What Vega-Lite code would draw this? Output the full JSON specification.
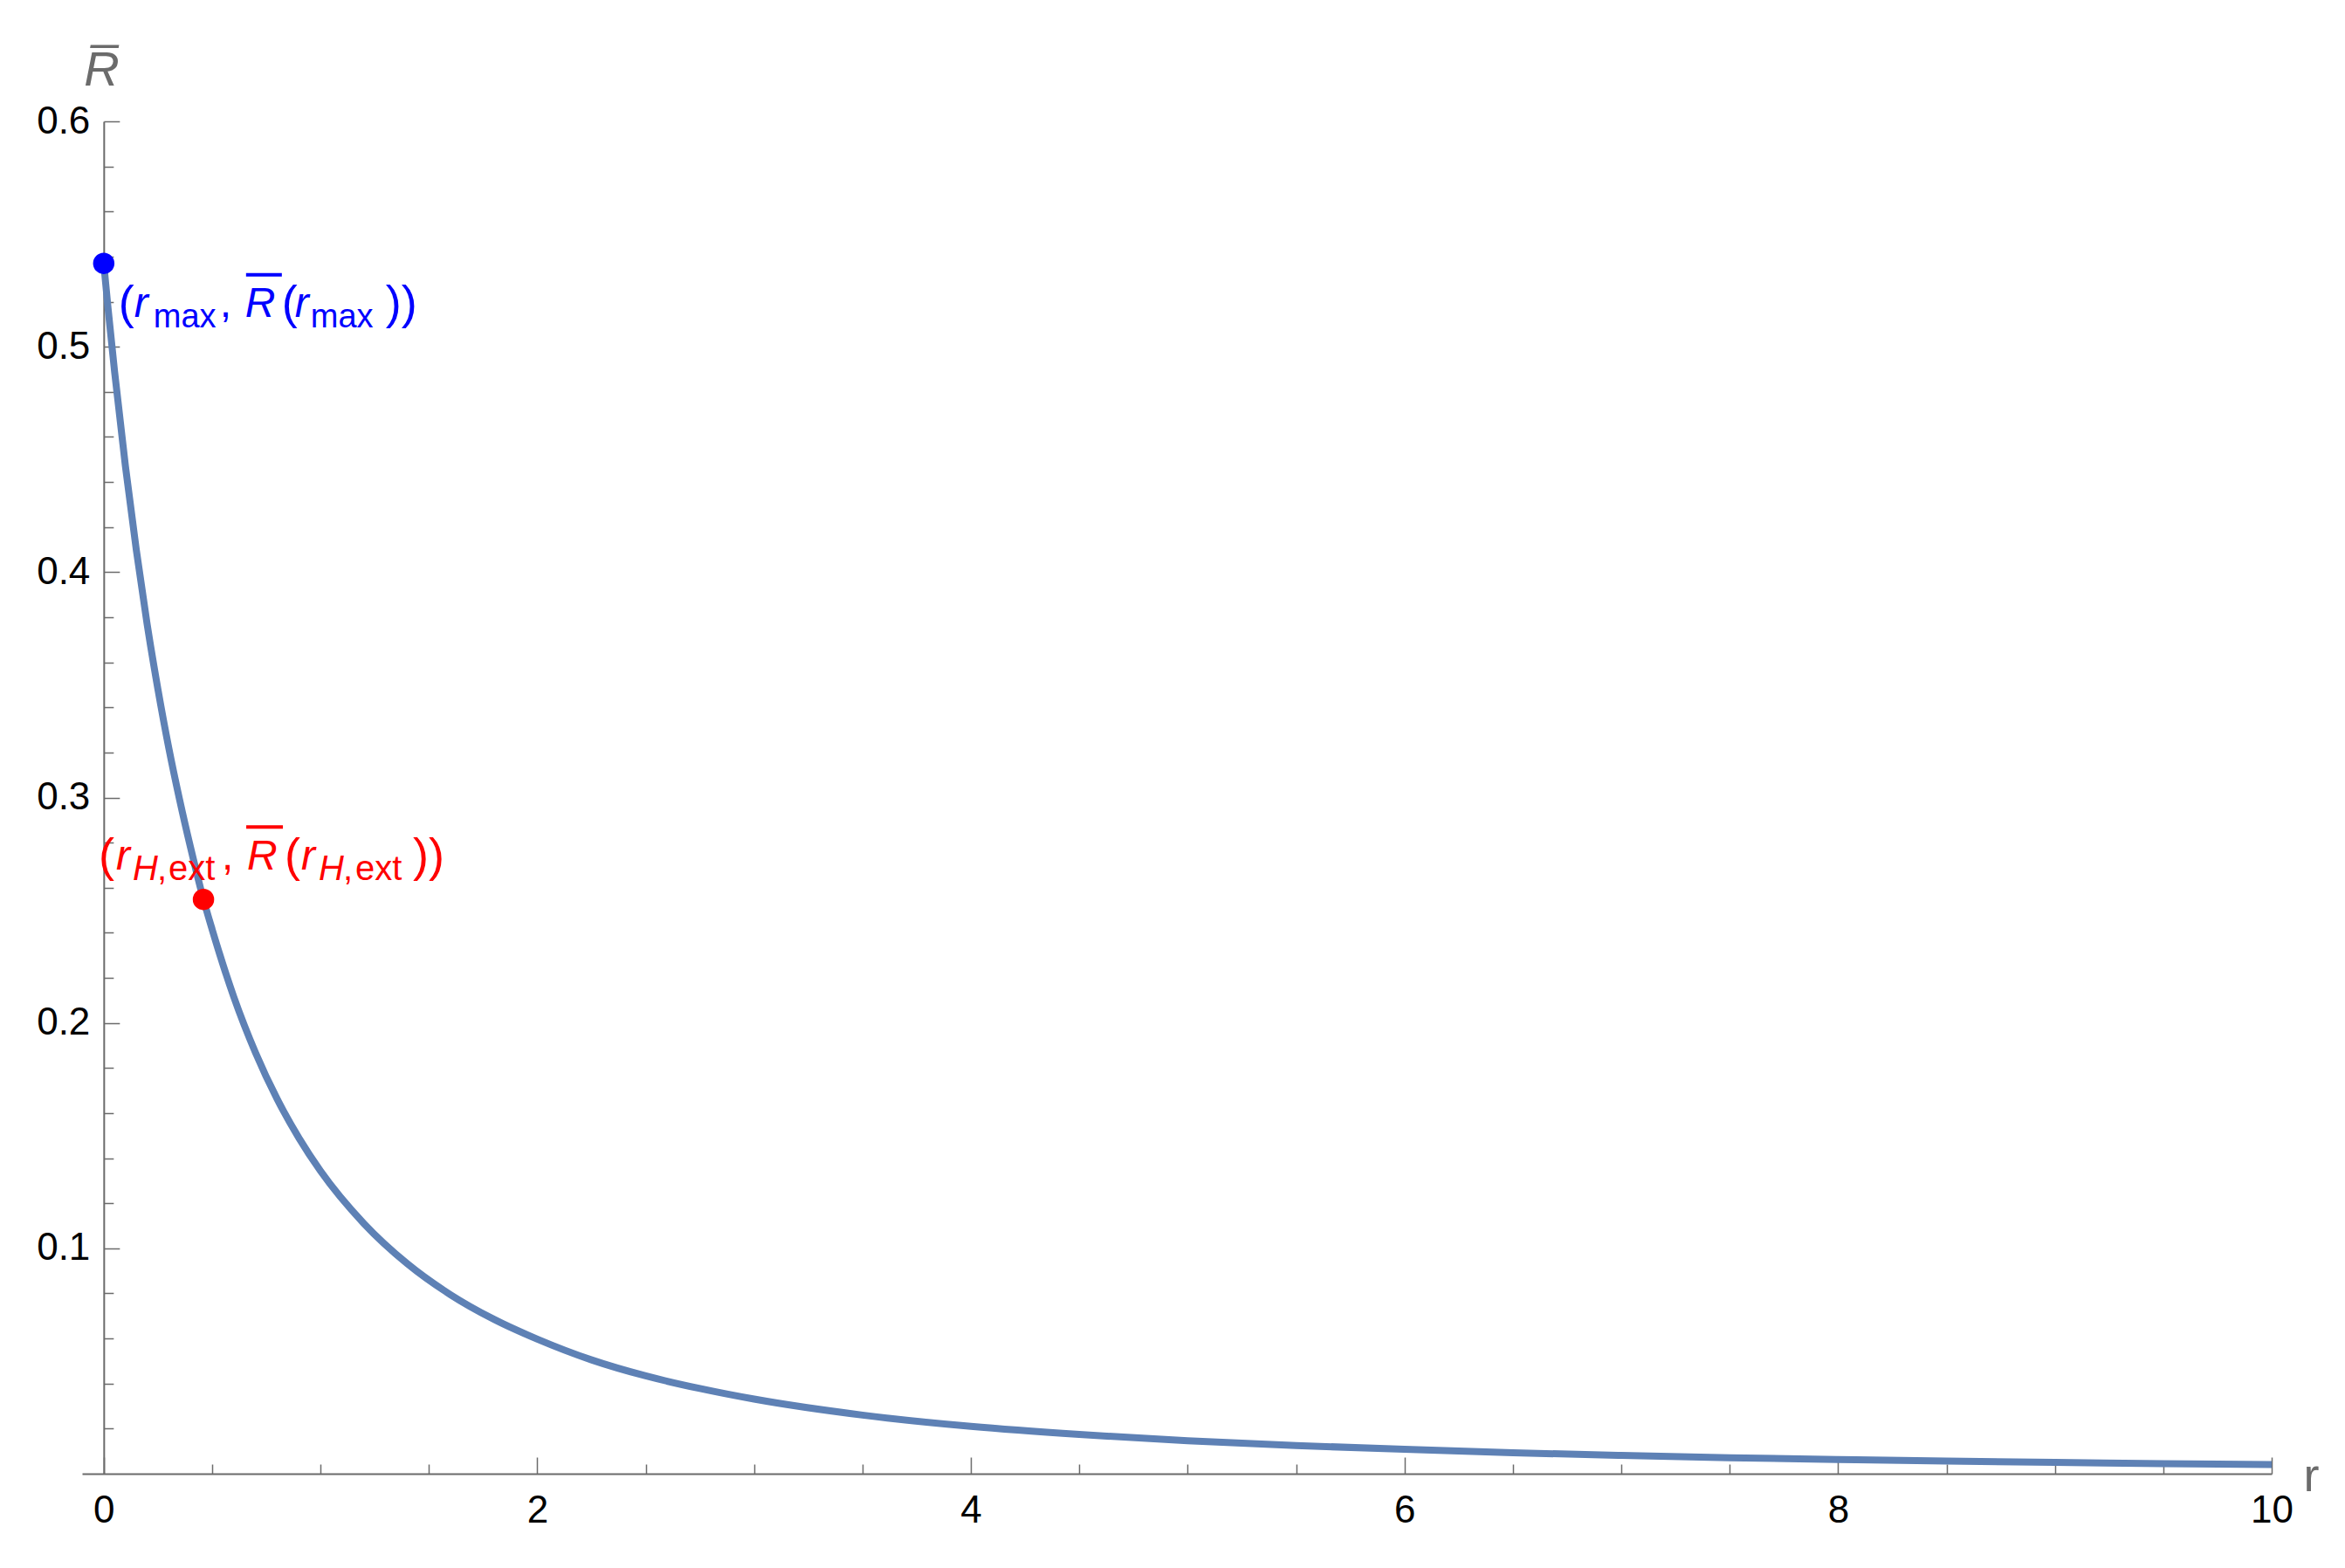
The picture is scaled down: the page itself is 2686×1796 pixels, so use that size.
{
  "$schema": "https://vega.github.io/schema/vega-lite/v6.json",
  "width": 2508,
  "height": 1549,
  "autosize": {"type": "none"},
  "padding": {"left": 94, "top": 139, "right": 84, "bottom": 108},
  "background": "white",
  "config": {
    "view": {"stroke": null},
    "font": "Liberation Sans",
    "text": {"font": "Liberation Sans"},
    "axis": {
      "grid": false,
      "domainColor": "#6b6b6b",
      "tickColor": "#6b6b6b",
      "domainWidth": 2,
      "tickWidth": 1.5,
      "labelColor": "#000000",
      "labelFont": "Liberation Sans",
      "labelFontSize": 44,
      "titleColor": "#6b6b6b",
      "titleFont": "Liberation Sans",
      "titleFontWeight": "normal"
    }
  },
  "datasets": {
    "curve": [
      {"r": 0, "R": 0.537},
      {"r": 0.02, "R": 0.517},
      {"r": 0.05, "R": 0.489},
      {"r": 0.1, "R": 0.447},
      {"r": 0.15, "R": 0.41},
      {"r": 0.2, "R": 0.377},
      {"r": 0.25, "R": 0.348},
      {"r": 0.3, "R": 0.322},
      {"r": 0.35, "R": 0.299},
      {"r": 0.4, "R": 0.278},
      {"r": 0.46, "R": 0.2548},
      {"r": 0.5, "R": 0.2415},
      {"r": 0.6, "R": 0.2115},
      {"r": 0.7, "R": 0.1868},
      {"r": 0.8, "R": 0.1662},
      {"r": 0.9, "R": 0.149},
      {"r": 1.0, "R": 0.1343},
      {"r": 1.2, "R": 0.111},
      {"r": 1.4, "R": 0.0932},
      {"r": 1.6, "R": 0.0794},
      {"r": 1.8, "R": 0.0685},
      {"r": 2.0, "R": 0.0597},
      {"r": 2.25, "R": 0.0505},
      {"r": 2.5, "R": 0.0434},
      {"r": 2.75, "R": 0.0378},
      {"r": 3.0, "R": 0.0331},
      {"r": 3.5, "R": 0.026},
      {"r": 4.0, "R": 0.021},
      {"r": 4.5, "R": 0.0174},
      {"r": 5.0, "R": 0.0146},
      {"r": 5.5, "R": 0.0125},
      {"r": 6.0, "R": 0.0108},
      {"r": 6.5, "R": 0.0093},
      {"r": 7.0, "R": 0.0081},
      {"r": 7.5, "R": 0.0071},
      {"r": 8.0, "R": 0.0063},
      {"r": 8.5, "R": 0.0056},
      {"r": 9.0, "R": 0.005},
      {"r": 9.5, "R": 0.0045},
      {"r": 10.0, "R": 0.0041}
    ],
    "pts": [
      {"name": "max", "r": 0, "R": 0.537},
      {"name": "ext", "r": 0.46, "R": 0.2548}
    ]
  },
  "resolve": {"axis": {"x": "independent", "y": "independent"}},
  "layer": [
    {
      "data": {"name": "curve"},
      "mark": {"type": "line", "color": "#5e81b5", "strokeWidth": 8, "interpolate": "monotone", "clip": false},
      "encoding": {
        "x": {
          "field": "r", "type": "quantitative",
          "scale": {"domain": [-0.1, 10], "nice": false, "zero": false},
          "axis": {
            "orient": "bottom",
            "values": [0, 2, 4, 6, 8, 10],
            "format": "d",
            "tickSize": -19,
            "labelPadding": 39,
            "labelFlush": false,
            "labelOverlap": false,
            "title": "r",
            "titleX": 2544,
            "titleY": 19,
            "titleAlign": "left",
            "titleBaseline": "alphabetic",
            "titleAngle": 0,
            "titleFontSize": 54,
            "titlePadding": 0
          }
        },
        "y": {
          "field": "R", "type": "quantitative",
          "scale": {"domain": [0, 0.6], "nice": false, "zero": false},
          "axis": {
            "orient": "left",
            "offset": -24.83,
            "values": [0.1, 0.2, 0.3, 0.4, 0.5, 0.6],
            "format": ".1f",
            "tickSize": -18,
            "labelPadding": 34,
            "labelFlush": false,
            "labelOverlap": false,
            "title": "R̅",
            "titleX": -23,
            "titleY": -42,
            "titleAngle": 0,
            "titleAlign": "left",
            "titleBaseline": "alphabetic",
            "titleFontSize": 56,
            "titleFontStyle": "italic",
            "titlePadding": 0
          }
        }
      }
    },
    {
      "data": {"name": "pts"},
      "mark": {"type": "circle", "size": 600, "opacity": 1},
      "encoding": {
        "x": {
          "field": "r", "type": "quantitative",
          "axis": {
            "orient": "bottom",
            "values": [0.5, 1, 1.5, 2.5, 3, 3.5, 4.5, 5, 5.5, 6.5, 7, 7.5, 8.5, 9, 9.5],
            "tickSize": -11,
            "labels": false,
            "domain": false,
            "title": null
          }
        },
        "y": {
          "field": "R", "type": "quantitative",
          "axis": {
            "orient": "left",
            "offset": -24.83,
            "values": [0.02, 0.04, 0.06, 0.08, 0.12, 0.14, 0.16, 0.18, 0.22, 0.24, 0.26, 0.28, 0.32, 0.34, 0.36, 0.38, 0.42, 0.44, 0.46, 0.48, 0.52, 0.54, 0.56, 0.58],
            "tickSize": -11,
            "labels": false,
            "domain": false,
            "title": null
          }
        },
        "color": {
          "field": "name", "type": "nominal",
          "scale": {"domain": ["max", "ext"], "range": ["#0000ff", "#ff0000"]},
          "legend": null
        }
      }
    },
    {
      "data": {"name": "pts"},
      "transform": [{"filter": "datum.name === 'max'"}],
      "encoding": {
        "x": {"field": "r", "type": "quantitative", "axis": null},
        "y": {"field": "R", "type": "quantitative", "axis": null}
      },
      "layer": [
        {"mark": {"type": "text", "text": "(", "dx": 17, "dy": 63, "align": "left", "baseline": "alphabetic", "fontSize": 54, "font": "Liberation Sans", "color": "#0000ff"}},
        {"mark": {"type": "text", "text": "r", "dx": 35, "dy": 61, "align": "left", "baseline": "alphabetic", "fontSize": 48, "font": "Liberation Sans", "fontStyle": "italic", "color": "#0000ff"}},
        {"mark": {"type": "text", "text": "max", "dx": 57, "dy": 73, "align": "left", "baseline": "alphabetic", "fontSize": 38, "font": "Liberation Sans", "color": "#0000ff"}},
        {"mark": {"type": "text", "text": ",", "dx": 133, "dy": 61, "align": "left", "baseline": "alphabetic", "fontSize": 48, "font": "Liberation Sans", "color": "#0000ff"}},
        {"mark": {"type": "text", "text": "R", "dx": 162, "dy": 61, "align": "left", "baseline": "alphabetic", "fontSize": 48, "font": "Liberation Sans", "fontStyle": "italic", "color": "#0000ff"}},
        {"mark": {"type": "text", "text": "(", "dx": 204, "dy": 63, "align": "left", "baseline": "alphabetic", "fontSize": 54, "font": "Liberation Sans", "color": "#0000ff"}},
        {"mark": {"type": "text", "text": "r", "dx": 219, "dy": 61, "align": "left", "baseline": "alphabetic", "fontSize": 48, "font": "Liberation Sans", "fontStyle": "italic", "color": "#0000ff"}},
        {"mark": {"type": "text", "text": "max", "dx": 237, "dy": 73, "align": "left", "baseline": "alphabetic", "fontSize": 38, "font": "Liberation Sans", "color": "#0000ff"}},
        {"mark": {"type": "text", "text": "))", "dx": 323, "dy": 63, "align": "left", "baseline": "alphabetic", "fontSize": 54, "font": "Liberation Sans", "color": "#0000ff"}},
        {
          "mark": {"type": "rule", "color": "#0000ff", "strokeWidth": 4, "xOffset": 163, "x2Offset": 204, "yOffset": 13},
          "encoding": {"x2": {"field": "r"}}
        }
      ]
    },
    {
      "data": {"name": "pts"},
      "transform": [{"filter": "datum.name === 'ext'"}],
      "encoding": {
        "x": {"field": "r", "type": "quantitative", "axis": null},
        "y": {"field": "R", "type": "quantitative", "axis": null}
      },
      "layer": [
        {"mark": {"type": "text", "text": "(", "dx": -120, "dy": -32, "align": "left", "baseline": "alphabetic", "fontSize": 54, "font": "Liberation Sans", "color": "#ff0000"}},
        {"mark": {"type": "text", "text": "r", "dx": -100, "dy": -34, "align": "left", "baseline": "alphabetic", "fontSize": 48, "font": "Liberation Sans", "fontStyle": "italic", "color": "#ff0000"}},
        {"mark": {"type": "text", "text": "H", "dx": -81, "dy": -22, "align": "left", "baseline": "alphabetic", "fontSize": 40, "font": "Liberation Sans", "fontStyle": "italic", "color": "#ff0000"}},
        {"mark": {"type": "text", "text": ",", "dx": -53, "dy": -22, "align": "left", "baseline": "alphabetic", "fontSize": 40, "font": "Liberation Sans", "color": "#ff0000"}},
        {"mark": {"type": "text", "text": "ext", "dx": -40, "dy": -22, "align": "left", "baseline": "alphabetic", "fontSize": 40, "font": "Liberation Sans", "color": "#ff0000"}},
        {"mark": {"type": "text", "text": ",", "dx": 21, "dy": -34, "align": "left", "baseline": "alphabetic", "fontSize": 48, "font": "Liberation Sans", "color": "#ff0000"}},
        {"mark": {"type": "text", "text": "R", "dx": 50, "dy": -34, "align": "left", "baseline": "alphabetic", "fontSize": 48, "font": "Liberation Sans", "fontStyle": "italic", "color": "#ff0000"}},
        {"mark": {"type": "text", "text": "(", "dx": 93, "dy": -32, "align": "left", "baseline": "alphabetic", "fontSize": 54, "font": "Liberation Sans", "color": "#ff0000"}},
        {"mark": {"type": "text", "text": "r", "dx": 112, "dy": -34, "align": "left", "baseline": "alphabetic", "fontSize": 48, "font": "Liberation Sans", "fontStyle": "italic", "color": "#ff0000"}},
        {"mark": {"type": "text", "text": "H", "dx": 132, "dy": -22, "align": "left", "baseline": "alphabetic", "fontSize": 40, "font": "Liberation Sans", "fontStyle": "italic", "color": "#ff0000"}},
        {"mark": {"type": "text", "text": ",", "dx": 160, "dy": -22, "align": "left", "baseline": "alphabetic", "fontSize": 40, "font": "Liberation Sans", "color": "#ff0000"}},
        {"mark": {"type": "text", "text": "ext", "dx": 174, "dy": -22, "align": "left", "baseline": "alphabetic", "fontSize": 40, "font": "Liberation Sans", "color": "#ff0000"}},
        {"mark": {"type": "text", "text": "))", "dx": 240, "dy": -32, "align": "left", "baseline": "alphabetic", "fontSize": 54, "font": "Liberation Sans", "color": "#ff0000"}},
        {
          "mark": {"type": "rule", "color": "#ff0000", "strokeWidth": 4, "xOffset": 49, "x2Offset": 91, "yOffset": -83},
          "encoding": {"x2": {"field": "r"}}
        }
      ]
    }
  ]
}
